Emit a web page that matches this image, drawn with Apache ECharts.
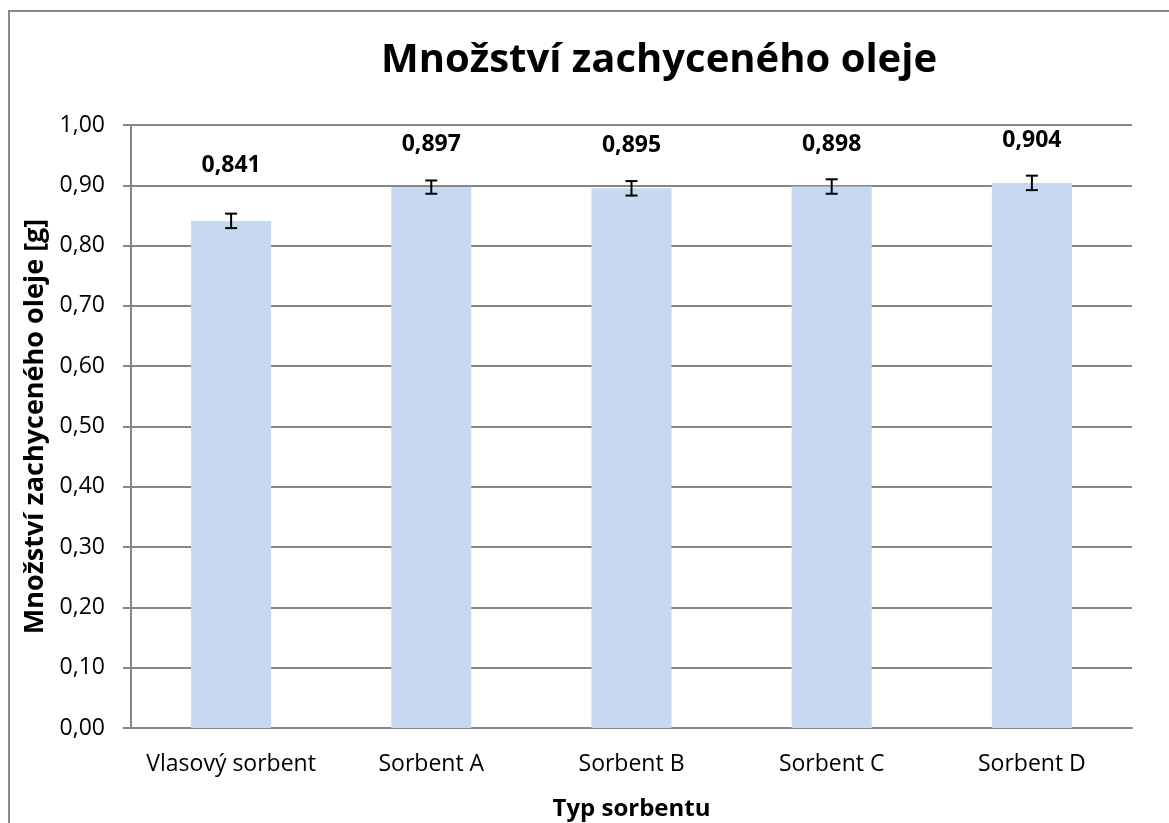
<!DOCTYPE html>
<html>
<head>
<meta charset="utf-8">
<script src="https://cdn.jsdelivr.net/npm/echarts@6/dist/echarts.min.js"></script>
<style>
html,body{margin:0;padding:0;background:#fff;}
#frame{position:absolute;left:8px;top:10px;width:1161px;height:813px;border-left:2px solid #898989;border-top:2px solid #898989;box-sizing:border-box;}
#chart{position:absolute;left:0;top:0;width:1169px;height:823px;}
</style>
</head>
<body>
<div id="frame"></div>
<div id="chart"></div>
<script>
// data
var categories = ['Vlasový sorbent', 'Sorbent A', 'Sorbent B', 'Sorbent C', 'Sorbent D'];
var values = [0.841, 0.897, 0.895, 0.898, 0.904];
var errors = [0.012, 0.011, 0.012, 0.012, 0.012];
var labelGap = [44, 31, 31, 31, 31];

var FONT = '"Open Sans", "DejaVu Sans", sans-serif';
var chart = echarts.init(document.getElementById('chart'));

function fmt(v, d){ return v.toFixed(d).replace('.', ','); }

var barData = values.map(function(v, i){
    return { value: v, label: { distance: labelGap[i] } };
});

var errData = values.map(function(v, i){ return [i, v - errors[i], v + errors[i]]; });

chart.setOption({
    animation: false,
    title: {
        text: 'Množství zachyceného oleje',
        left: 654, top: 36, textAlign: 'center',
        textStyle: { fontFamily: FONT, fontSize: 40, fontWeight: 'bold', color: '#000' }
    },
    grid: { left: 131, right: 37, top: 125, bottom: 95, containLabel: false, outerBoundsMode: 'none' },
    xAxis: {
        type: 'category',
        data: categories,
        name: 'Typ sorbentu',
        nameLocation: 'middle',
        nameGap: 69,
        nameTextStyle: { fontFamily: FONT, fontSize: 24, fontWeight: 'bold', color: '#000' },
        axisLine: { lineStyle: { color: '#868686', width: 2 } },
        axisTick: { length: 8, lineStyle: { color: '#868686', width: 2 } },
        axisLabel: { interval: 0, fontFamily: FONT, fontSize: 23, color: '#000', margin: 25 }
    },
    yAxis: {
        type: 'value',
        min: 0, max: 1, interval: 0.1,
        name: 'Množství zachyceného oleje [g]',
        nameLocation: 'middle',
        nameGap: 80,
        nameTextStyle: { fontFamily: FONT, fontSize: 27, fontWeight: 'bold', color: '#000' },
        axisLine: { show: true, lineStyle: { color: '#868686', width: 2 } },
        axisTick: { show: true, length: 8, lineStyle: { color: '#868686', width: 2 } },
        splitLine: { lineStyle: { color: '#868686', width: 2 } },
        axisLabel: { fontFamily: FONT, fontSize: 23, color: '#000', margin: 26,
            formatter: function(v){ return fmt(v, 2); } }
    },
    series: [{
        type: 'bar',
        data: barData,
        barWidth: '40%',
        itemStyle: { color: '#c6d9f1' },
        label: {
            show: true, position: 'top',
            fontFamily: FONT, fontSize: 23, fontWeight: 'bold', color: '#000',
            formatter: function(p){ return fmt(p.value, 3); }
        },
        z: 2
    }, {
        type: 'custom',
        data: errData,
        z: 5,
        renderItem: function(params, api){
            var lo = api.coord([api.value(0), api.value(1)]);
            var hi = api.coord([api.value(0), api.value(2)]);
            var w = 6;
            var st = { stroke: '#000', lineWidth: 2 };
            return {
                type: 'group',
                children: [
                    { type: 'line', shape: { x1: hi[0], y1: hi[1], x2: lo[0], y2: lo[1] }, style: st },
                    { type: 'line', shape: { x1: hi[0]-w, y1: hi[1], x2: hi[0]+w, y2: hi[1] }, style: st },
                    { type: 'line', shape: { x1: lo[0]-w, y1: lo[1], x2: lo[0]+w, y2: lo[1] }, style: st }
                ]
            };
        }
    }]
});
</script>
</body>
</html>
